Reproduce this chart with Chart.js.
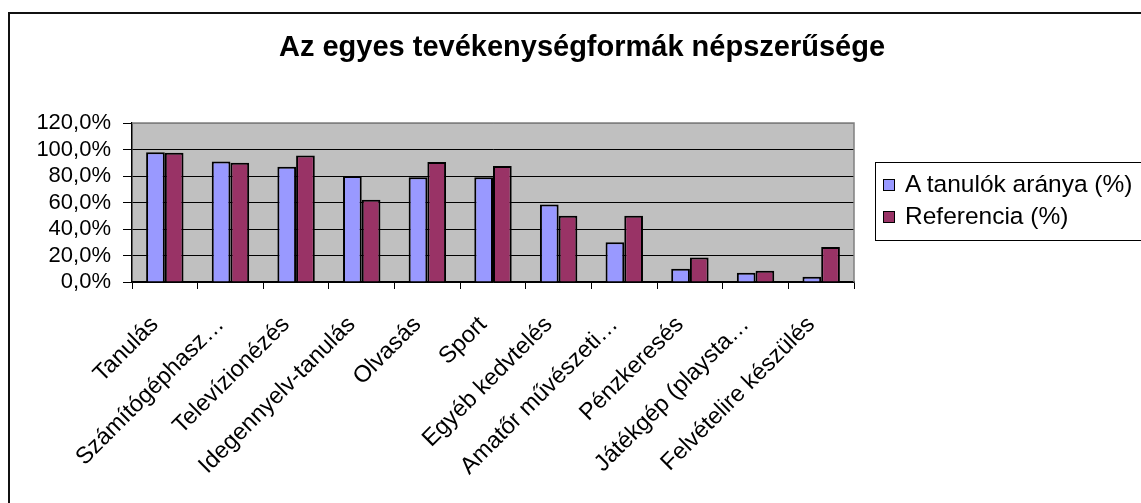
<!DOCTYPE html>
<html>
<head>
<meta charset="utf-8">
<script src="https://cdn.jsdelivr.net/npm/chart.js@4.4.1/dist/chart.umd.min.js"></script>
<style>
    html, body { margin: 0; padding: 0; background: #fff; }
    #wrap { position: relative; width: 1141px; height: 503px; overflow: hidden; }
    #frame {
        position: absolute; left: 8px; top: 12px; width: 1200px; height: 600px;
        border-left: 2px solid #111; border-top: 2px solid #111;
    }
    #title {
        position: absolute; left: 0; top: 30px; width: 1164px; text-align: center;
        font-family: "Liberation Sans", Arial, sans-serif; font-weight: bold; font-size: 29px; color: #000;
    }
    #legend {
        position: absolute; left: 875px; top: 162px; width: 265px; height: 77px;
        border: 1px solid #000; background: #fff;
        font-family: "Liberation Sans", Arial, sans-serif; font-size: 24.5px; color: #000;
    }
    .item { position: absolute; left: 7px; height: 26px; line-height: 26px; white-space: nowrap; }
    .box { display: inline-block; width: 10px; height: 10px; border: 1px solid #000; margin-right: 10px; vertical-align: 1px; }
</style>
</head>
<body>
<div id="wrap">
    <div id="frame"></div>
    <canvas id="chart" width="1141" height="503"></canvas>
    <div id="title">Az egyes tevékenységformák népszerűsége</div>
    <div id="legend"></div>
</div>
<script>
const categories = [
    'Tanulás', 'Számítógéphasz…', 'Televízionézés', 'Idegennyelv-tanulás', 'Olvasás', 'Sport',
    'Egyéb kedvtelés', 'Amatőr művészeti…', 'Pénzkeresés', 'Játékgép (playsta…', 'Felvételire készülés'
];
const studentShare = [98, 91, 87, 80, 79, 79, 58.5, 30, 10, 7, 4];
const referenceShare = [97.5, 90, 95.5, 62, 90.5, 87.5, 50, 50, 18.5, 8.5, 26.5];
const yTicks = [0, 20, 40, 60, 80, 100, 120];

const seriesNames = ['A tanulók aránya (%)', 'Referencia (%)'];
const seriesColors = ['#9999FF', '#993366'];

const FONT = '"Liberation Sans", Arial, sans-serif';

const plotBackground = {
    id: 'plotBackground',
    beforeDraw(chart) {
        const { ctx, chartArea: a } = chart;
        ctx.save();
        ctx.fillStyle = '#C0C0C0';
        ctx.fillRect(a.left, a.top, a.right - a.left, a.bottom - a.top);
        ctx.restore();
    },
    afterDraw(chart) {
        const { ctx, chartArea: a } = chart;
        ctx.save();
        ctx.strokeStyle = '#808080';
        ctx.lineWidth = 1.5;
        ctx.beginPath();
        ctx.moveTo(a.left, a.top);
        ctx.lineTo(a.right, a.top);
        ctx.lineTo(a.right, a.bottom);
        ctx.stroke();
        ctx.restore();
    }
};

new Chart(document.getElementById('chart'), {
    type: 'bar',
    data: {
        labels: categories,
        datasets: [
            {
                label: seriesNames[0],
                data: studentShare,
                backgroundColor: seriesColors[0],
                borderColor: '#000',
                borderWidth: 2
            },
            {
                label: seriesNames[1],
                data: referenceShare,
                backgroundColor: seriesColors[1],
                borderColor: '#000',
                borderWidth: 2
            }
        ]
    },
    options: {
        responsive: false,
        animation: false,
        categoryPercentage: 0.57,
        barPercentage: 1.0,
        layout: { padding: { left: 0, right: 287, top: 123, bottom: 0 } },
        plugins: {
            legend: { display: false },
            tooltip: { enabled: false }
        },
        scales: {
            x: {
                grid: {
                    display: true,
                    drawOnChartArea: false,
                    color: '#000',
                    tickLength: 7,
                    offset: true
                },
                border: { color: '#000', width: 1.5 },
                ticks: {
                    color: '#000',
                    font: { family: FONT, size: 23.5 },
                    autoSkip: false,
                    minRotation: 45,
                    maxRotation: 45,
                    labelOffset: -10,
                    padding: 22
                },
                afterFit(scale) { scale.height = 221; }
            },
            y: {
                min: 0,
                max: 120,
                afterBuildTicks(scale) { scale.ticks = yTicks.map(v => ({ value: v })); },
                grid: {
                    color: ctx => (ctx.tick && ctx.tick.value === 120 ? '#808080' : '#000'),
                    lineWidth: 1,
                    tickLength: 9,
                    tickColor: '#000'
                },
                border: { color: '#000', width: 1.5 },
                ticks: {
                    color: '#000',
                    font: { family: FONT, size: 22 },
                    autoSkip: false,
                    padding: 12,
                    callback: v => v.toFixed(1).replace('.', ',') + '%'
                },
                afterFit(scale) { scale.width = 132; }
            }
        }
    },
    plugins: [plotBackground]
});

const legend = document.getElementById('legend');
seriesNames.forEach((name, i) => {
    const row = document.createElement('div');
    row.className = 'item';
    row.style.top = (i === 0 ? 8 : 40) + 'px';
    row.innerHTML = `<span class="box" style="background:${seriesColors[i]}"></span>${name}`;
    legend.appendChild(row);
});
</script>
</body>
</html>
